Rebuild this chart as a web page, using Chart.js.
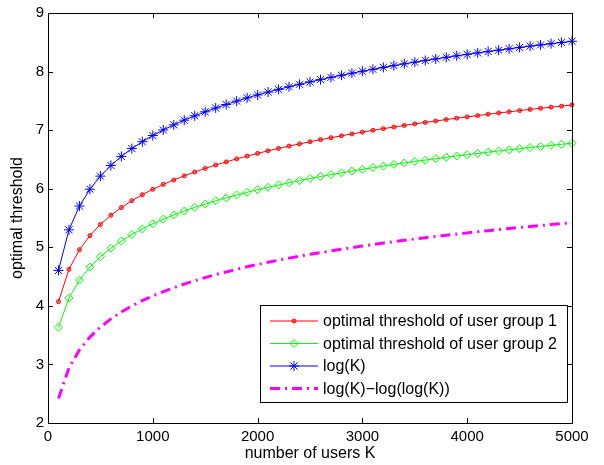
<!DOCTYPE html>
<html>
<head>
<meta charset="utf-8">
<script src="https://cdn.jsdelivr.net/npm/chart.js@4/dist/chart.umd.min.js"></script>
<style>
html,body{margin:0;padding:0;background:#fff;}
#wrap{width:604px;height:465px;position:relative;}
</style>
</head>
<body>
<div id="wrap"><canvas id="c" width="604" height="465"></canvas></div>
<script>
// number of users K
const K = [100,200,300,400,500,600,700,800,900,1000,1100,1200,1300,1400,1500,1600,1700,1800,1900,2000,
  2100,2200,2300,2400,2500,2600,2700,2800,2900,3000,3100,3200,3300,3400,3500,3600,3700,3800,3900,4000,
  4100,4200,4300,4400,4500,4600,4700,4800,4900,5000];
const group1 = [4.071,4.624,4.959,5.200,5.390,5.547,5.679,5.795,5.898,5.990,6.074,6.149,6.220,6.285,6.346,6.405,6.457,6.509,6.557,6.603,
  6.647,6.688,6.728,6.765,6.802,6.838,6.871,6.904,6.935,6.966,6.997,7.025,7.053,7.080,7.107,7.132,7.156,7.181,7.205,7.226,
  7.248,7.272,7.293,7.313,7.334,7.354,7.372,7.392,7.410,7.430];
const group2 = [3.635,4.133,4.439,4.662,4.838,4.984,5.108,5.218,5.314,5.401,5.480,5.551,5.619,5.681,5.738,5.795,5.844,5.894,5.939,5.984,
  6.024,6.064,6.101,6.139,6.174,6.208,6.240,6.271,6.301,6.331,6.360,6.387,6.414,6.440,6.466,6.488,6.513,6.537,6.560,6.580,
  6.602,6.624,6.644,6.664,6.683,6.704,6.721,6.740,6.758,6.776];
const logK = [4.605,5.298,5.704,5.991,6.215,6.397,6.551,6.685,6.802,6.908,7.003,7.090,7.170,7.244,7.313,7.378,7.438,7.496,7.550,7.601,
  7.650,7.696,7.741,7.783,7.824,7.863,7.901,7.937,7.972,8.006,8.039,8.071,8.102,8.132,8.161,8.189,8.216,8.243,8.269,8.294,
  8.319,8.343,8.366,8.389,8.412,8.434,8.455,8.476,8.497,8.517];
const approxCurve = [2.420,2.940,3.248,3.467,3.637,3.777,3.895,3.998,4.089,4.170,4.243,4.310,4.372,4.429,4.483,4.534,4.579,4.625,4.667,4.707,
  4.744,4.780,4.815,4.848,4.880,4.910,4.939,4.967,4.995,5.021,5.047,5.072,5.096,5.119,5.142,5.164,5.185,5.206,5.227,5.246,
  5.265,5.284,5.302,5.320,5.338,5.355,5.371,5.388,5.404,5.420];
const seriesLabels = ['optimal threshold of user group 1','optimal threshold of user group 2','log(K)','log(K)\u2212log(log(K))'];
const xTitle = 'number of users K';
const yTitle = 'optimal threshold';

const FONT = '"Liberation Sans", Arial, Helvetica, sans-serif';
const pts = arr => arr.map((v,i)=>({x:K[i], y:v}));

function drawMarker(ctx, style, x, y, r, color, fill){
  ctx.save();
  ctx.strokeStyle = color; ctx.lineWidth = 1; ctx.setLineDash([]);
  ctx.beginPath();
  if (style === 'circle'){
    ctx.arc(x,y,r,0,Math.PI*2);
    ctx.fillStyle = fill; ctx.fill(); ctx.stroke();
  } else if (style === 'rectRot'){
    ctx.moveTo(x, y-r); ctx.lineTo(x+r, y); ctx.lineTo(x, y+r); ctx.lineTo(x-r, y); ctx.closePath();
    ctx.stroke();
  } else if (style === 'star'){
    ctx.moveTo(x-r,y); ctx.lineTo(x+r,y); ctx.moveTo(x,y-r); ctx.lineTo(x,y+r);
    const d = r*Math.SQRT1_2;
    ctx.moveTo(x-d,y-d); ctx.lineTo(x+d,y+d); ctx.moveTo(x-d,y+d); ctx.lineTo(x+d,y-d);
    ctx.stroke();
  }
  ctx.restore();
}

const framePlugin = {
  id:'frame',
  afterDatasetsDraw(chart){
    const {ctx, chartArea:a, scales:{x,y}} = chart;
    ctx.save();
    ctx.strokeStyle = '#000'; ctx.lineWidth = 1; ctx.setLineDash([]);
    ctx.strokeRect(Math.round(a.left)+0.5, Math.round(a.top)+0.5, Math.round(a.right-a.left), Math.round(a.bottom-a.top));
    ctx.beginPath();
    x.ticks.forEach(t=>{
      const px = Math.round(x.getPixelForValue(t.value))+0.5;
      ctx.moveTo(px, a.bottom); ctx.lineTo(px, a.bottom-5);
      ctx.moveTo(px, a.top); ctx.lineTo(px, a.top+5);
    });
    y.ticks.forEach(t=>{
      const py = Math.round(y.getPixelForValue(t.value))+0.5;
      ctx.moveTo(a.left, py); ctx.lineTo(a.left+5, py);
      ctx.moveTo(a.right, py); ctx.lineTo(a.right-5, py);
    });
    ctx.stroke();
    ctx.restore();
  },
  afterDraw(chart){
    const ctx = chart.ctx;
    const bx = 260, by = 305, bw = 307, bh = 97;
    ctx.save();
    ctx.fillStyle = '#fff';
    ctx.fillRect(bx, by, bw, bh);
    ctx.strokeStyle = '#000'; ctx.lineWidth = 1;
    ctx.strokeRect(bx+0.5, by+0.5, bw, bh);
    ctx.font = '16px ' + FONT;
    ctx.textBaseline = 'middle';
    ctx.fillStyle = '#000';
    chart.data.datasets.forEach((ds, i)=>{
      const yy = by + 16 + i*22.5;
      ctx.save();
      ctx.strokeStyle = ds.borderColor; ctx.lineWidth = ds.borderWidth;
      ctx.setLineDash(ds.borderDash || []);
      ctx.beginPath(); ctx.moveTo(270, yy); ctx.lineTo(318, yy); ctx.stroke();
      ctx.restore();
      if (ds.pointRadius > 0) drawMarker(ctx, ds.pointStyle, 294, yy, ds.pointRadius, ds.pointBorderColor, ds.pointBackgroundColor);
      ctx.fillStyle = '#000';
      ctx.fillText(ds.label, 323, yy+1);
    });
    ctx.restore();
  }
};

new Chart(document.getElementById('c'), {
  type:'line',
  data:{
    datasets:[
      {label:seriesLabels[0], data:pts(group1), borderColor:'#ff0000', borderWidth:1,
       pointStyle:'circle', pointRadius:2, pointBackgroundColor:'rgba(255,0,0,0.45)', pointBorderColor:'#ff0000', pointBorderWidth:1, clip:10},
      {label:seriesLabels[1], data:pts(group2), borderColor:'#00ff00', borderWidth:1,
       pointStyle:'rectRot', pointRadius:4, pointBackgroundColor:'rgba(0,0,0,0)', pointBorderColor:'#00ff00', pointBorderWidth:1, clip:10},
      {label:seriesLabels[2], data:pts(logK), borderColor:'#0000ff', borderWidth:1,
       pointStyle:'star', pointRadius:5, pointBackgroundColor:'rgba(0,0,0,0)', pointBorderColor:'#0000ff', pointBorderWidth:1, clip:10},
      {label:seriesLabels[3], data:pts(approxCurve), borderColor:'#ff00ff', borderWidth:3, borderDash:[10,5,2,5],
       pointRadius:0, clip:10}
    ]
  },
  options:{
    responsive:false, animation:false, devicePixelRatio:1,
    layout:{padding:{top:11, right:32, left:0, bottom:0}},
    plugins:{legend:{display:false}, tooltip:{enabled:false}},
    elements:{line:{tension:0}},
    scales:{
      x:{type:'linear', min:0, max:5000,
         ticks:{stepSize:1000, color:'#000', font:{family:FONT, size:15}, padding:5, maxRotation:0, callback:v=>String(v)},
         grid:{display:false, drawTicks:false}, border:{display:false},
         title:{display:true, text:xTitle, color:'#000', font:{family:FONT, size:16}, padding:{top:0,bottom:2}},
         afterFit(s){ s.height = 42; }},
      y:{type:'linear', min:2, max:9,
         ticks:{stepSize:1, color:'#000', font:{family:FONT, size:15}, padding:4, callback:v=>String(v)},
         grid:{display:false, drawTicks:false}, border:{display:false},
         title:{display:true, text:yTitle, color:'#000', font:{family:FONT, size:16}, padding:{top:8,bottom:0}},
         afterFit(s){ s.width = 48; }}
    }
  },
  plugins:[framePlugin]
});
</script>
</body>
</html>
